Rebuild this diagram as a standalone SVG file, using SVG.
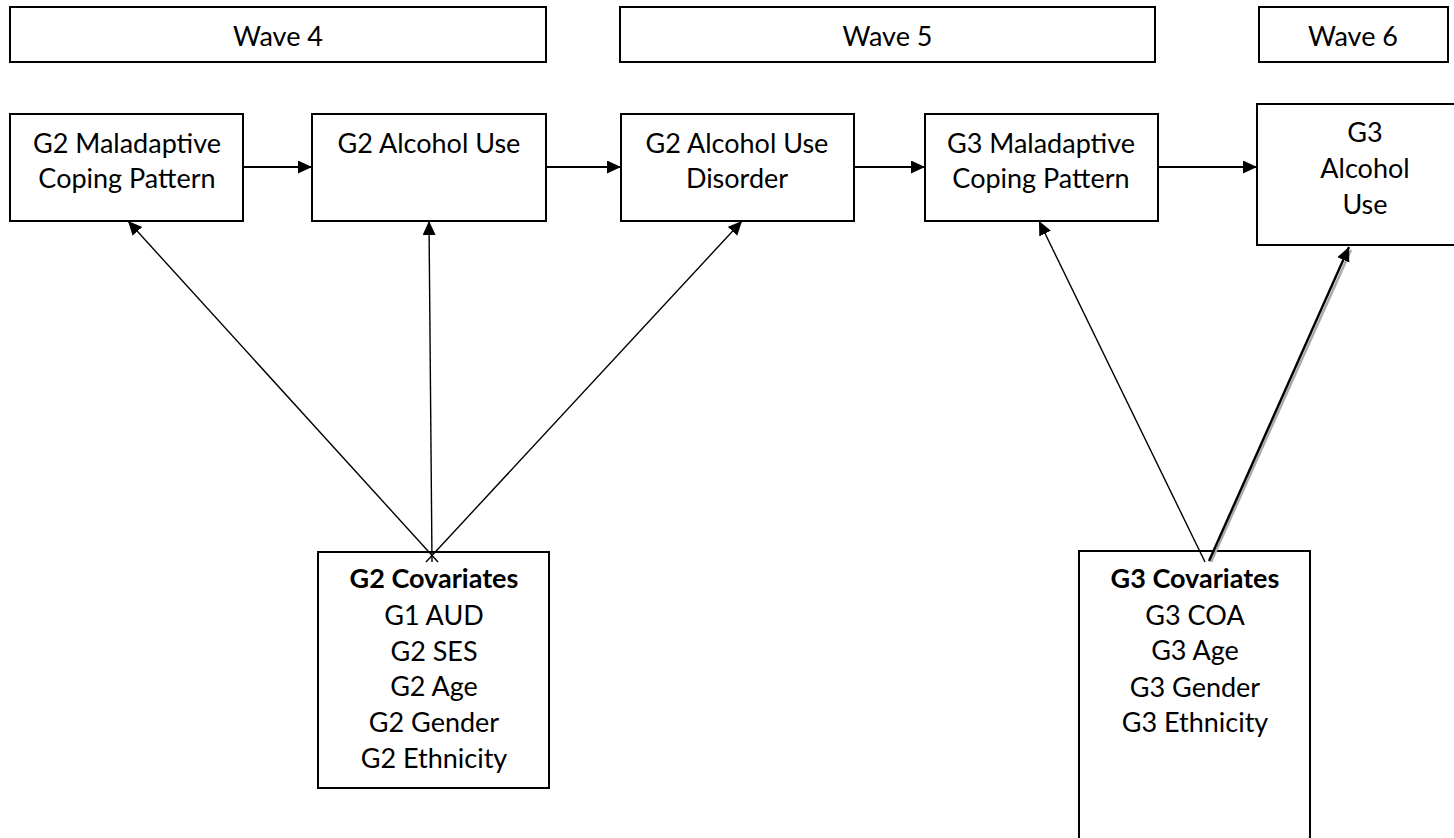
<svg xmlns="http://www.w3.org/2000/svg" width="1454" height="838" viewBox="0 0 1454 838">
<style>
.box{fill:#fff;stroke:#000;stroke-width:2}
.t{font-family:Lato,"Liberation Sans",sans-serif;font-size:27px;fill:#000;text-anchor:middle}
.b{font-weight:bold}
.c{stroke:#000;fill:none}
.h{stroke-width:2}
.d{stroke-width:1.4}
</style>
<defs>
<marker id="ah" markerUnits="userSpaceOnUse" markerWidth="16" markerHeight="14" refX="14" refY="6.5" orient="auto">
<path d="M0,0 L14,6.5 L0,13 Z" fill="#000"/>
</marker>
</defs>
<rect width="1454" height="838" fill="#fff"/>
<g id="wave4"><rect class="box" x="10" y="7" width="536" height="55"/><text class="t" x="278" y="46">Wave 4</text></g>
<g id="wave5"><rect class="box" x="620" y="7" width="535" height="55"/><text class="t" x="887.5" y="46">Wave 5</text></g>
<g id="wave6"><rect class="box" x="1259" y="7" width="189" height="55"/><text class="t" x="1353" y="46">Wave 6</text></g>
<g id="g2mcp"><rect class="box" x="10" y="114" width="233" height="107"/><text class="t" x="127" y="153">G2 Maladaptive</text><text class="t" x="127" y="188">Coping Pattern</text></g>
<g id="g2au"><rect class="box" x="312" y="114" width="234" height="107"/><text class="t" x="429" y="153">G2 Alcohol Use</text></g>
<g id="g2aud"><rect class="box" x="621" y="114" width="233" height="107"/><text class="t" x="737" y="153">G2 Alcohol Use</text><text class="t" x="737" y="188">Disorder</text></g>
<g id="g3mcp"><rect class="box" x="925" y="114" width="233" height="107"/><text class="t" x="1041" y="153">G3 Maladaptive</text><text class="t" x="1041" y="188">Coping Pattern</text></g>
<g id="g3au"><rect class="box" x="1257" y="104" width="217" height="141"/><text class="t" x="1365" y="142">G3</text><text class="t" x="1365" y="178">Alcohol</text><text class="t" x="1365" y="214">Use</text></g>
<g id="g2cov"><rect class="box" x="318" y="552" width="231" height="236"/>
<text class="t b" x="434" y="588">G2 Covariates</text>
<text class="t" x="434" y="625">G1 AUD</text>
<text class="t" x="434" y="661">G2 SES</text>
<text class="t" x="434" y="696">G2 Age</text>
<text class="t" x="434" y="732">G2 Gender</text>
<text class="t" x="434" y="768">G2 Ethnicity</text></g>
<g id="g3cov"><rect class="box" x="1079" y="551" width="231" height="300"/>
<text class="t b" x="1195" y="588">G3 Covariates</text>
<text class="t" x="1195" y="625">G3 COA</text>
<text class="t" x="1195" y="660">G3 Age</text>
<text class="t" x="1195" y="697">G3 Gender</text>
<text class="t" x="1195" y="732">G3 Ethnicity</text></g>
<g id="connectors">
<line class="c h" x1="243" y1="167" x2="312" y2="167" marker-end="url(#ah)"/>
<line class="c h" x1="546" y1="167" x2="621" y2="167" marker-end="url(#ah)"/>
<line class="c h" x1="854" y1="167" x2="925" y2="167" marker-end="url(#ah)"/>
<line class="c h" x1="1158" y1="167" x2="1257" y2="167" marker-end="url(#ah)"/>
<line class="c d" x1="438" y1="562" x2="128" y2="221" marker-end="url(#ah)"/>
<line class="c d" x1="432" y1="562" x2="429" y2="221" marker-end="url(#ah)"/>
<line class="c d" x1="426" y1="562" x2="742" y2="221" marker-end="url(#ah)"/>
<line class="c d" x1="1205" y1="562" x2="1039" y2="221" marker-end="url(#ah)"/>
<line x1="1211" y1="562" x2="1351" y2="250" stroke="#aaa" stroke-width="2.5"/>
<line class="c" stroke-width="2.4" x1="1209" y1="561" x2="1349" y2="247" marker-end="url(#ah)"/>
</g>
</svg>
